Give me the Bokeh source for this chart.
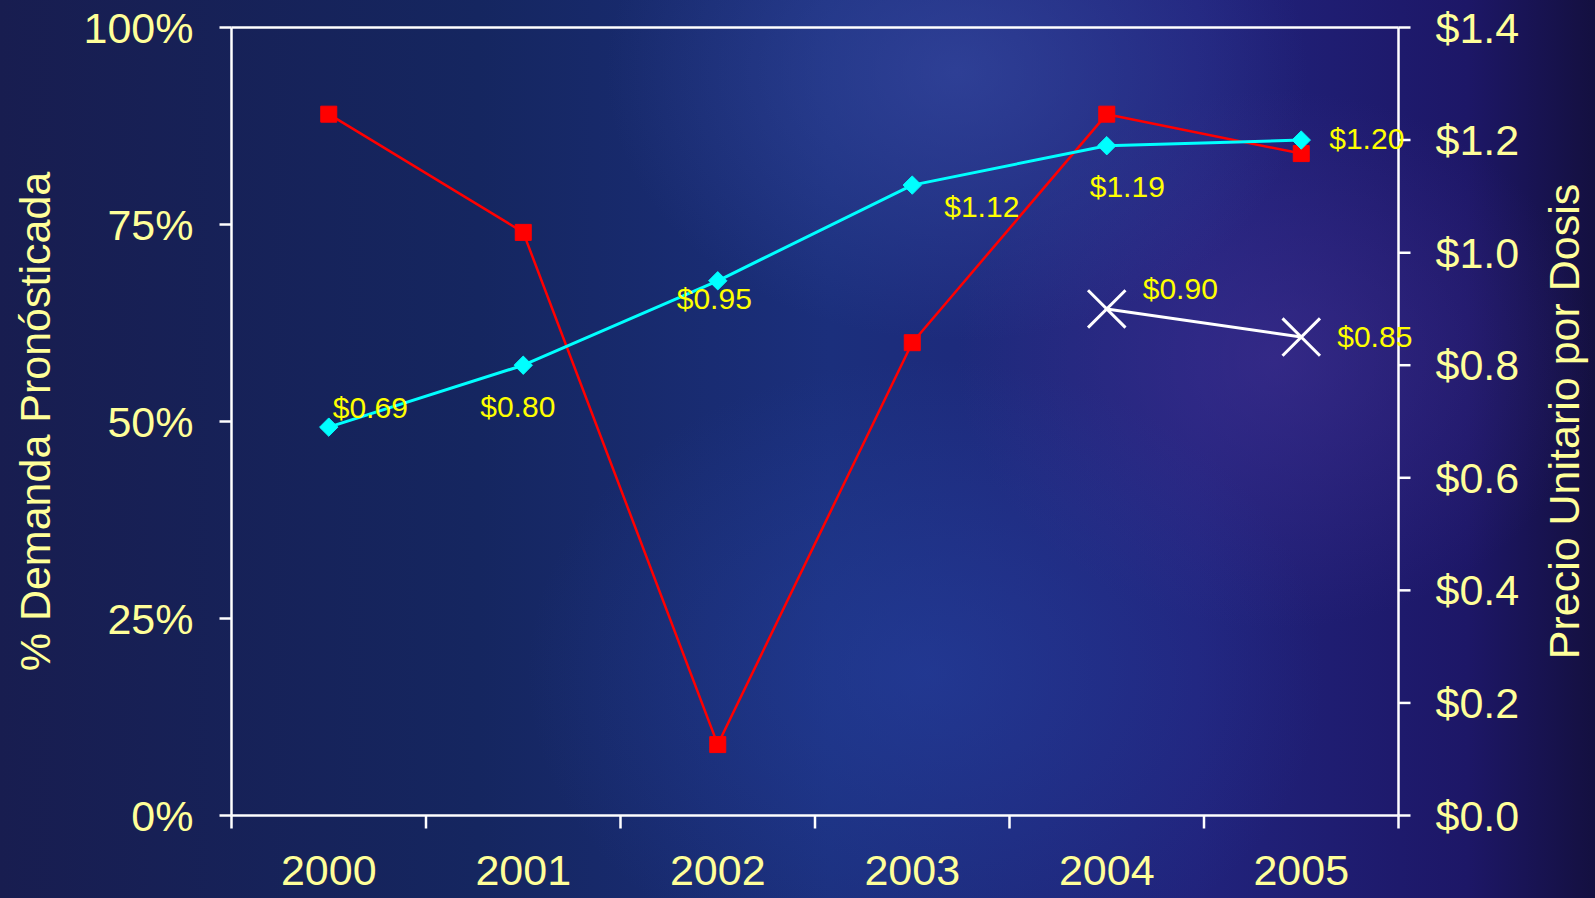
import numpy as np
from bokeh.plotting import figure
from bokeh.models import Range1d, Label
from bokeh.embed import file_html
from bokeh.resources import INLINE
from bokeh.core.properties import value

# ---- data ----
years = ["2000", "2001", "2002", "2003", "2004", "2005"]
demand_pct = [89, 74, 9, 60, 89, 84]                   # % Demanda Pronósticada (left axis)
price_forecast = [0.69, 0.80, 0.95, 1.12, 1.19, 1.20]  # cyan series (right axis)
actual_years = ["2004", "2005"]
price_actual = [0.90, 0.85]                            # white series (right axis)
left_ticks = [0, 25, 50, 75, 100]
right_ticks = [0.0, 0.2, 0.4, 0.6, 0.8, 1.0, 1.2, 1.4]
left_title = "% Demanda Pronósticada"
right_title = "Precio Unitario por Dosis"

# label placement (screen px offsets, styling only; dy positive = up)
fc_dx = [4, -43, -41, 32, -17, 28]
fc_dy = [20, -41, -18, -21, -41, 2]
ac_dx = [36, 36]
ac_dy = [20, 1]

FONT = "Liberation Sans"
TICK_COLOR = "#ffff99"
LABEL_COLOR = "#ffff00"
AX = dict(line_color="white", line_width=2.5)
W, H = 1595, 898
# pixel layout of the plotting area (axes frame)
PX_L, PX_R, PX_T, PX_B = 231, 1398, 27, 815

n = len(years)
xc = [years.index(y) + 0.5 for y in years]
xa = [years.index(y) + 0.5 for y in actual_years]
pct_max = left_ticks[-1]
p_max = right_ticks[-1]

# ranges so that the axes box sits at the pixel layout above, leaving room for all texts
ux = (PX_R - PX_L) / n
uy = (PX_B - PX_T) / pct_max
x_range = Range1d(-PX_L / ux, (W - PX_L) / ux)
y0, y1 = -(H - PX_B) / uy, pct_max + PX_T / uy
y_range = Range1d(y0, y1)

p = figure(
    width=W, height=H, min_border=0,
    x_range=x_range, y_range=y_range,
    x_axis_location=None, y_axis_location=None,
    output_backend="svg", toolbar_location=None,
)
p.extra_y_ranges = {"price": Range1d(y0 * p_max / pct_max, y1 * p_max / pct_max)}

p.styles = {
    "background": "radial-gradient(ellipse 22% 30% at 60% 8%, rgba(60,80,170,0.55), rgba(60,80,170,0) 100%),"
                  "radial-gradient(ellipse 25% 35% at 58% 75%, rgba(40,70,170,0.45), rgba(40,70,170,0) 100%),"
                  "radial-gradient(ellipse 20% 30% at 80% 40%, rgba(70,50,150,0.5), rgba(70,50,150,0) 100%),"
                  "linear-gradient(90deg, #181d50 0%, #152660 30%, #1b2f7c 52%, #21237c 75%, #1d1767 92%, #141040 100%)"
}
p.border_fill_alpha = 0
p.background_fill_alpha = 0
p.outline_line_color = None
p.xgrid.visible = False
p.ygrid.visible = False

txt = dict(text_color=TICK_COLOR, text_font=value(FONT), text_font_size="43px")

# axes box lines
p.segment(x0=[0, 0, 0, n], y0=[0, pct_max, 0, 0], x1=[n, n, 0, n], y1=[0, pct_max, pct_max, pct_max], **AX)

# left axis (percent)
p.ray(x=[0] * len(left_ticks), y=left_ticks, length=12, length_units="screen", angle=np.pi, **AX)
p.text(x=[0] * len(left_ticks), y=left_ticks, text=[f"{t}%" for t in left_ticks], x_offset=-38,
       text_align="right", text_baseline="middle", **txt)
p.text(x=[0], y=[pct_max / 2], text=[left_title], x_offset=-197, angle=np.pi / 2,
       text_align="center", text_baseline="middle", **txt)

# bottom axis (years): tick marks at category boundaries, labels at centres
p.ray(x=list(range(n + 1)), y=[0] * (n + 1), length=13, length_units="screen", angle=-np.pi / 2, **AX)
p.text(x=xc, y=[0] * n, text=years, y_offset=55, text_align="center", text_baseline="middle", **txt)

# right axis (price)
p.ray(x=[n] * len(right_ticks), y=right_ticks, length=12, length_units="screen", angle=0,
      y_range_name="price", **AX)
p.text(x=[n] * len(right_ticks), y=right_ticks, text=[f"${t:.1f}" for t in right_ticks],
       y_range_name="price", x_offset=37, text_align="left", text_baseline="middle", **txt)
p.text(x=[n], y=[p_max / 2], text=[right_title], y_range_name="price", x_offset=165,
       angle=np.pi / 2, text_align="center", text_baseline="middle", **txt)

# red series
p.line(xc, demand_pct, line_color="#ff0000", line_width=2.5)
p.scatter(xc, demand_pct, marker="square", size=16, fill_color="#ff0000", line_color="#ff0000")

# cyan series
p.line(xc, price_forecast, y_range_name="price", line_color="#00ffff", line_width=3)
p.scatter(xc, price_forecast, y_range_name="price", marker="square", angle=np.pi / 4, size=13,
          fill_color="#00ffff", line_color="#00ffff")

# white series
p.line(xa, price_actual, y_range_name="price", line_color="white", line_width=3)
p.scatter(xa, price_actual, y_range_name="price", marker="x", size=53, line_color="white", line_width=3)

# data labels
for xs, vals, dxs, dys in ((xc, price_forecast, fc_dx, fc_dy), (xa, price_actual, ac_dx, ac_dy)):
    for x, v, dx, dy in zip(xs, vals, dxs, dys):
        p.add_layout(Label(x=x, y=v, y_range_name="price", text=f"${v:.2f}",
                           x_offset=dx, y_offset=dy,
                           text_color=LABEL_COLOR, text_font=FONT, text_font_size="30px",
                           text_align="left", text_baseline="middle"))

open("out.html", "w").write(file_html(p, INLINE))
